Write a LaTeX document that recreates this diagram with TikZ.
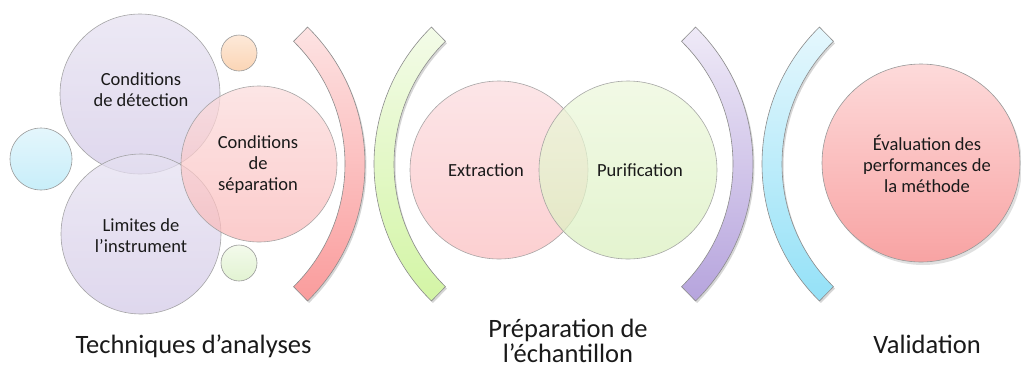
\documentclass[tikz,border=0pt]{standalone}
\usepackage{fontspec}
\setmainfont{Carlito}
\definecolor{pu1}{HTML}{E6E1F1}
\definecolor{pu2}{HTML}{D3C9E7}
\definecolor{ps1}{HTML}{FCDCDC}
\definecolor{ps2}{HTML}{FAB8B8}
\definecolor{ex1}{HTML}{FCDCDF}
\definecolor{ex2}{HTML}{FCBEC0}
\definecolor{pf1}{HTML}{EDF8DC}
\definecolor{pf2}{HTML}{DAF0BE}
\definecolor{ev1}{HTML}{FDDADA}
\definecolor{ev2}{HTML}{F8A3A3}
\definecolor{sb1}{HTML}{E4F6FC}
\definecolor{sb2}{HTML}{C8EEF9}
\definecolor{so1}{HTML}{FDE9D9}
\definecolor{so2}{HTML}{FBD5B5}
\definecolor{sg1}{HTML}{F3FAEB}
\definecolor{sg2}{HTML}{E2F3D2}
\definecolor{ak1}{HTML}{FDE3E3}
\definecolor{ak2}{HTML}{FA9C9C}
\definecolor{ag1}{HTML}{F3FBE8}
\definecolor{ag2}{HTML}{D3F5A5}
\definecolor{ap1}{HTML}{EFEAF7}
\definecolor{ap2}{HTML}{B6A4DD}
\definecolor{ab1}{HTML}{E5F7FD}
\definecolor{ab2}{HTML}{94E1F7}
\definecolor{txt}{HTML}{1A1A1A}
\begin{document}
\begin{tikzpicture}[x=1pt,y=-1pt,
  bub/.style={circle, inner sep=0pt, draw=black!40, line width=0.6pt, fill opacity=0.72, draw opacity=0.85},
  solidbub/.style={circle, inner sep=0pt, draw=black!40, line width=0.6pt},
  lab/.style={align=center, font=\fontsize{18.5}{21}\selectfont, text=txt, inner sep=0pt},
  caplab/.style={align=center, font=\fontsize{26.5}{25}\selectfont, text=txt, inner sep=0pt}]
\useasboundingbox[fill=white] (0,0) rectangle (1021,368);

% small circles
\node[solidbub, minimum size=62pt, top color=sb1, bottom color=sb2] (sblue) at (41,159) {};
\node[solidbub, minimum size=36pt, top color=so1, bottom color=so2] (sorange) at (239,53) {};
\node[solidbub, minimum size=36pt, top color=sg1, bottom color=sg2] (sgreen) at (239,263) {};

% left group
\node[bub, minimum size=160pt, top color=pu1, bottom color=pu2] (det) at (140,94) {};
\node[bub, minimum size=160pt, top color=pu1, bottom color=pu2] (lim) at (141,234) {};
\node[bub, minimum size=156pt, top color=ps1, bottom color=ps2] (sep) at (259,164) {};

% middle group
\node[bub, minimum size=178pt, top color=ex1, bottom color=ex2] (ext) at (499,170) {};
\node[bub, minimum size=178pt, top color=pf1, bottom color=pf2] (pur) at (628,170) {};

% evaluation circle
\fill[black, opacity=0.12] (923,166) circle[radius=99];
\node[solidbub, minimum size=198pt, top color=ev1, bottom color=ev2] (eva) at (921,163) {};

% arcs
\foreach \cx/\a/\b/\ct/\cb in {173/-45.5/45.5/ak1/ak2, 566/134.5/225.5/ag1/ag2, 561/-45.5/45.5/ap1/ap2, 954/134.5/225.5/ab1/ab2}{
  \fill[black, opacity=0.16] ([shift={(\cx+1.5,166)}]\a:192) arc[start angle=\a, end angle=\b, radius=192]
     -- ([shift={(\cx+1.5,166)}]\b:172) arc[start angle=\b, end angle=\a, radius=172] -- cycle;
  \shade[top color=\ct, bottom color=\cb, draw=black!45, line width=0.6pt]
     ([shift={(\cx,164)}]\a:192) arc[start angle=\a, end angle=\b, radius=192]
     -- ([shift={(\cx,164)}]\b:172) arc[start angle=\b, end angle=\a, radius=172] -- cycle;
}

% texts
\node[lab] (tdet) at (141,90) {Conditions\\de détection};
\node[lab] (tlim) at (141,236) {Limites de\\l’instrument};
\node[lab] (tsep) at (258,165) {Conditions\\de\\séparation};
\node[lab] (text) at (486,170) {Extraction};
\node[lab] (tpur) at (640,170) {Purification};
\node[lab] (teva) at (927,164) {Évaluation des\\performances de\\la méthode};

\node[caplab, anchor=base] (c1) at (193.5,353) {Techniques d’analyses};
\node[caplab] (c2) at (568,341) {Préparation de\\l’échantillon};
\node[caplab, anchor=base] (c3) at (927,353) {Validation};
\end{tikzpicture}
\end{document}
